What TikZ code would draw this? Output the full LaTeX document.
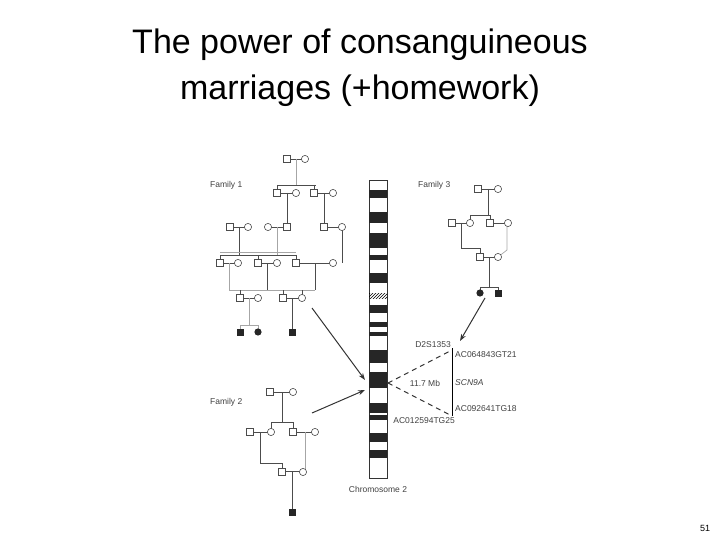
\documentclass[tikz,border=0pt]{standalone}
\usepackage{fontspec}
\setmainfont{Liberation Sans}
\usetikzlibrary{arrows.meta,patterns}
\begin{document}
\begin{tikzpicture}[x=1pt,y=-1pt,
 pl/.style={draw=black!70,line width=0.7pt},
 lt/.style={draw=black!35,line width=0.7pt},
 lab/.style={font=\fontsize{8.5}{10}\selectfont,text=black!75,inner sep=0pt},
 arr/.style={draw=black!80,line width=1pt,-{Stealth[length=7pt,width=5pt]}}]
\useasboundingbox (0,0) rectangle (720,540);
\newcommand{\sq}[2]{\draw[black!70,fill=white,line width=0.6pt] (#1-3.5,#2-3.5) rectangle (#1+3.5,#2+3.5);}
\newcommand{\ci}[2]{\draw[black!70,fill=white,line width=0.6pt] (#1,#2) circle (3.6);}
\newcommand{\fsq}[2]{\fill[black!85] (#1-3.5,#2-3.5) rectangle (#1+3.5,#2+3.5);}
\newcommand{\fci}[2]{\fill[black!85] (#1,#2) circle (3.6);}
% title
\node[font=\fontsize{34}{46}\selectfont,align=center] (title) at (360,68) {The power of consanguineous\\marriages (+homework)};
\node[font=\fontsize{9}{10}\selectfont] (pg) at (705,528) {51};
% chromosome
\draw[black!80,line width=0.6pt] (369,180) rectangle (387,478);
\foreach \a/\b in {190/198,212/223,233/248,255/260,273/283,305/313,322/327,332/336,350/363,372/388,403/413,415/420,433/442,450/458}
  \fill[black!85] (369,\a) rectangle (387,\b);
\fill[pattern=north east lines] (369,293) rectangle (387,298);
\node[lab] (chr) at (378,489) {Chromosome 2};
% markers
\draw[black,line width=0.9pt] (452,348) -- (452,416);
\draw[black!80,dash pattern=on 5pt off 4pt,line width=1pt] (388,383) -- (452,350);
\draw[black!80,dash pattern=on 5pt off 4pt,line width=1pt] (388,383) -- (452,416);
\node[lab,anchor=east] (d2s) at (451,345) {D2S1353};
\node[lab,anchor=west] (ac1) at (455,355) {AC064843GT21};
\node[lab] (mb) at (425,383) {11.7 Mb};
\node[lab,anchor=west] (scn) at (455,383) {\itshape SCN9A};
\node[lab,anchor=west] (ac2) at (455,409) {AC092641TG18};
\node[lab,anchor=east] (ac3) at (455,421) {AC012594TG25};
% arrows
\draw[arr] (312,308) -- (365,380);
\draw[arr] (312,413) -- (365,390);
\draw[arr] (485,298) -- (460,341);
% labels
\node[lab,anchor=west] (f1) at (210,185) {Family 1};
\node[lab,anchor=west] (f2) at (210,402) {Family 2};
\node[lab,anchor=west] (f3) at (418,185) {Family 3};
% ---------- Family 1
\draw[pl] (287,159)--(305,159);
\draw[lt] (296,159)--(296,185);
\draw[pl] (277,185)--(316,185) (277,185)--(277,193) (314,185)--(314,193);
\draw[pl] (277,193)--(296,193) (314,193)--(333,193);
\draw[pl] (287,193)--(287,227) (324,193)--(324,227);
\draw[pl] (230,227)--(248,227) (268,227)--(287,227) (324,227)--(342,227);
\draw[pl] (239,227)--(239,255);
\draw[lt] (277,227)--(277,255);
\draw[lt] (220,252)--(296,252);
\draw[pl] (239,255)--(296,255) (220,255)--(239,255);
\draw[pl] (220,255)--(220,263) (258,255)--(258,263) (296,255)--(296,263);
\draw[pl] (342,227)--(342,263);
\draw[pl] (220,263)--(238,263) (258,263)--(277,263) (296,263)--(333,263);
\draw[lt] (229,263)--(229,290);
\draw[pl] (267,263)--(267,290) (315,263)--(315,290);
\draw[lt] (229,290)--(315,290);
\draw[pl] (240,290)--(240,298) (283,290)--(283,298) (302,290)--(302,298);
\draw[pl] (240,298)--(258,298) (283,298)--(302,298);
\draw[lt] (249,298)--(249,325) (240,325)--(258,325) (240,325)--(240,332) (258,325)--(258,332);
\draw[pl] (292,298)--(292,332);
\sq{287}{159}\ci{305}{159}
\sq{277}{193}\ci{296}{193}\sq{314}{193}\ci{333}{193}
\sq{230}{227}\ci{248}{227}\ci{268}{227}\sq{287}{227}\sq{324}{227}\ci{342}{227}
\sq{220}{263}\ci{238}{263}\sq{258}{263}\ci{277}{263}\sq{296}{263}\ci{333}{263}
\sq{240}{298}\ci{258}{298}\sq{283}{298}\ci{302}{298}
\fsq{240}{332}\fci{258}{332}\fsq{292}{332}
% ---------- Family 2
\draw[pl] (270,392)--(293,392) (282,392)--(282,422) (271,422)--(293,422) (271,422)--(271,432) (293,422)--(293,432);
\draw[pl] (250,432)--(271,432) (293,432)--(315,432);
\draw[pl] (260,432)--(260,463)--(282,463)--(282,472);
\draw[lt] (305,432)--(305,472);
\draw[pl,double,double distance=1pt] (282,472)--(303,472);
\draw[pl] (292,472)--(292,512);
\sq{270}{392}\ci{293}{392}
\sq{250}{432}\ci{271}{432}\sq{293}{432}\ci{315}{432}
\sq{282}{472}\ci{303}{472}
\fsq{292}{512}
% ---------- Family 3
\draw[pl] (478,189)--(498,189) (488,189)--(488,215) (470,215)--(490,215) (470,215)--(470,223) (490,215)--(490,223);
\draw[pl] (452,223)--(470,223) (490,223)--(508,223);
\draw[pl] (461,223)--(461,248)--(480,248)--(480,257);
\draw[lt] (507,223)--(507,250)--(498,257);
\draw[pl] (480,257)--(498,257) (489,257)--(489,287) (480,287)--(498,287) (480,287)--(480,293) (498,287)--(498,293);
\sq{478}{189}\ci{498}{189}
\sq{452}{223}\ci{470}{223}\sq{490}{223}\ci{508}{223}
\sq{480}{257}\ci{498}{257}
\fci{480}{293}\fsq{498}{293}
\end{tikzpicture}
\end{document}
